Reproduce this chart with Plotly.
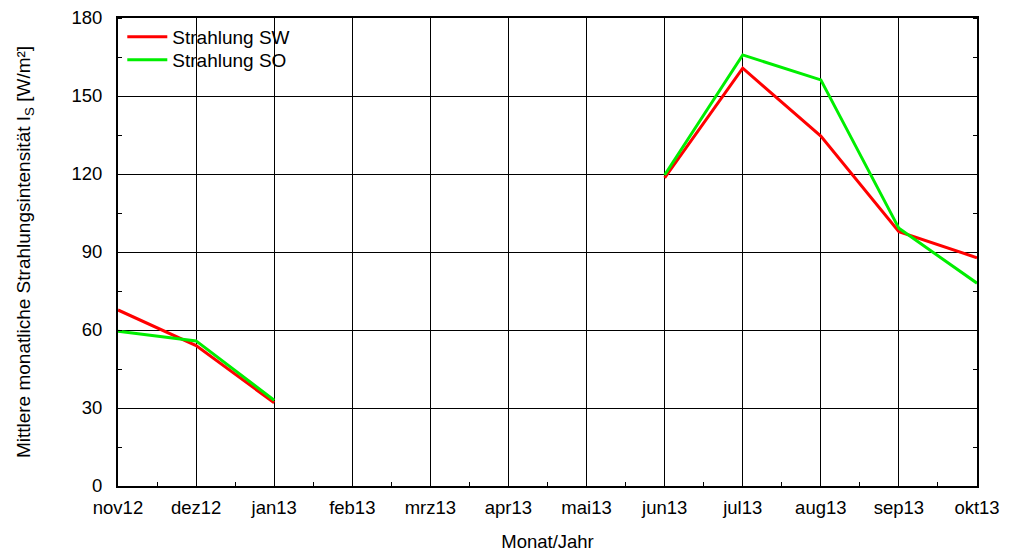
import plotly.graph_objects as go

months = ['nov12', 'dez12', 'jan13', 'feb13', 'mrz13', 'apr13',
          'mai13', 'jun13', 'jul13', 'aug13', 'sep13', 'okt13']
strahlung_sw = [67.7, 54.0, 32.0, None, None, None, None, 118.5, 160.7, 134.6, 97.8, 87.8]
strahlung_so = [59.5, 55.8, 33.0, None, None, None, None, 119.6, 165.8, 156.2, 99.1, 78.0]
y_ticks = [0, 30, 60, 90, 120, 150, 180]

FONT = 'Liberation Sans, Arial, sans-serif'
x_pos = list(range(len(months)))

fig = go.Figure()
fig.add_trace(go.Scatter(x=x_pos, y=strahlung_sw, mode='lines', name='Strahlung SW',
                         line=dict(color='#ff0000', width=3), connectgaps=False,
                         legend='legend'))
fig.add_trace(go.Scatter(x=x_pos, y=strahlung_so, mode='lines', name='Strahlung SO',
                         line=dict(color='#00ee00', width=3), connectgaps=False,
                         legend='legend2'))

leg = dict(xanchor='left', yanchor='top', bgcolor='rgba(0,0,0,0)',
           font=dict(size=19), itemwidth=40)

# page body adds 8px offset, so margins are shifted by 8
fig.update_layout(
    width=1011, height=557,
    paper_bgcolor='white', plot_bgcolor='white',
    font=dict(family=FONT, size=18.5, color='black'),
    margin=dict(l=110, r=42, t=10, b=79),
    showlegend=True,
    legend=dict(leg, x=0.005, y=1.0),
    legend2=dict(leg, x=0.005, y=1.0 - 23 / 468),
    xaxis=dict(
        range=[0, 11], tickvals=x_pos, ticktext=months, automargin=False,
        showgrid=True, gridcolor='black', gridwidth=1,
        showline=True, linecolor='black', linewidth=2, mirror=True,
        ticks='', zeroline=False, ticklabelstandoff=4, ticklabeloverflow='allow',
        minor=dict(tickvals=[i + 0.5 for i in range(11)], ticks='inside',
                   ticklen=4, tickcolor='black', showgrid=False),
        title=dict(text='Monat/Jahr', font=dict(size=18.5), standoff=18),
    ),
    yaxis=dict(
        range=[0, 180], tickvals=y_ticks, automargin=False,
        showgrid=True, gridcolor='black', gridwidth=1,
        showline=True, linecolor='black', linewidth=2, mirror='allticks',
        ticks='', zeroline=False, ticklabelstandoff=10, ticklabeloverflow='allow',
        minor=dict(dtick=15, ticks='inside', ticklen=4, tickcolor='black', showgrid=False),
        title=dict(text='Mittlere monatliche Strahlungsintensität I<sub>S</sub> [W/m²]',
                   font=dict(size=19), standoff=36),
    ),
)

fig.write_html("out.html")
